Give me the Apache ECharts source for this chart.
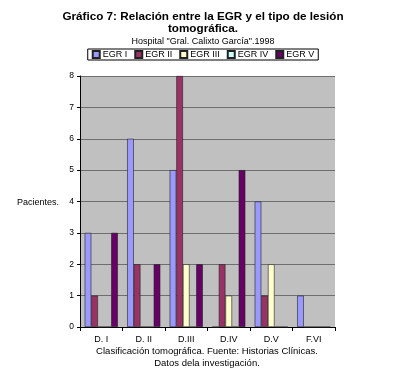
<!DOCTYPE html>
<html><head><meta charset="utf-8">
<script src="https://cdn.jsdelivr.net/npm/echarts@6/dist/echarts.min.js"></script>
<style>html,body{margin:0;padding:0;background:#fff}#c{width:406px;height:389px}</style>
</head><body><div id="c"></div>
<script>
const categories = ["D. I", "D. II", "D.III", "D.IV", "D.V", "F.VI"];
const seriesNames = ["EGR I", "EGR II", "EGR III", "EGR IV", "EGR V"];
const egr1 = [3, 6, 5, 0, 4, 1];
const egr2 = [1, 2, 8, 2, 1, 0];
const egr3 = [0, 0, 2, 1, 2, 0];
const egr4 = [0, 0, 0, 0, 0, 0];
const egr5 = [3, 2, 2, 5, 0, 0];
const yTicks = [0, 1, 2, 3, 4, 5, 6, 7, 8];

const colors = ["#9999FF", "#993366", "#FFFFCC", "#CCFFFF", "#660066"];
const data = [egr1, egr2, egr3, egr4, egr5];
const font = "'Liberation Sans', Arial, sans-serif";

const chart = echarts.init(document.getElementById('c'));
chart.setOption({
  animation: false,
  textStyle: { fontFamily: font },
  title: [
    { text: "Gráfico 7: Relación entre la EGR y el tipo de lesión\ntomográfica.", left: 'center', top: 11, padding: 0,
      textStyle: { fontSize: 11.7, fontWeight: 'bold', color: '#000', fontFamily: font, lineHeight: 12 } },
    { text: 'Hospital "Gral. Calixto García".1998', left: 'center', top: 37, padding: 0,
      textStyle: { fontSize: 9, fontWeight: 'normal', color: '#000', fontFamily: font } },
    { text: "Clasificación tomográfica. Fuente: Historias Clínicas.\nDatos dela investigación.", left: 207, textAlign: 'center', top: 345, padding: 0,
      textStyle: { fontSize: 9.5, fontWeight: 'normal', color: '#000', fontFamily: font, lineHeight: 12 } }
  ],
  graphic: [
    { type: 'text', left: 17, top: 198, style: { text: 'Pacientes.', fill: '#000', font: "9px 'Liberation Sans', Arial, sans-serif" } }
  ],
  legend: {
    data: seriesNames, top: 49, left: 'center', itemWidth: 7, itemHeight: 7, itemGap: 7,
    borderColor: '#000', borderWidth: 1, padding: [1, 4], icon: 'rect',
    textStyle: { fontSize: 9, color: '#000', fontFamily: font, padding: [0, 0, 0, -2] }
  },
  grid: { left: 80, right: 71, top: 76, bottom: 62 },
  xAxis: {
    type: 'category', data: categories,
    axisLine: { lineStyle: { color: '#000' } },
    axisTick: { show: true, lineStyle: { color: '#000' }, length: 4 },
    axisLabel: { fontSize: 9, color: '#000', margin: 8 }
  },
  yAxis: {
    type: 'value', min: yTicks[0], max: yTicks[yTicks.length - 1], interval: 1,
    axisLine: { show: true, lineStyle: { color: '#000' } },
    axisTick: { show: true, lineStyle: { color: '#000' }, length: 3 },
    axisLabel: { fontSize: 8.5, color: '#000', margin: 6, hideOverlap: false, showMinLabel: true, showMaxLabel: true },
    splitLine: { lineStyle: { color: '#6e6e6e', width: 1 } },
    splitArea: { show: true, areaStyle: { color: ['#C0C0C0', '#C0C0C0'] } }
  },
  series: seriesNames.map((n, i) => ({
    name: n, type: 'bar', data: data[i], barGap: '0%', barCategoryGap: '22%',
    itemStyle: { color: colors[i], borderColor: '#222', borderWidth: 0.6 }
  }))
});
</script></body></html>
